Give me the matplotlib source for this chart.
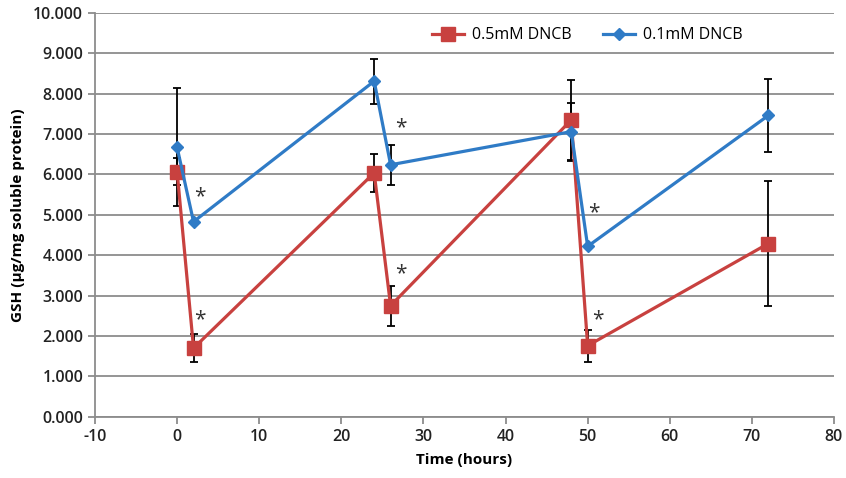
import matplotlib
matplotlib.use("Agg")
from matplotlib import pyplot as plt
from matplotlib.ticker import FormatStrFormatter

# time points (hours)
time_h = [0, 2, 24, 26, 48, 50, 72]

# GSH, 0.5mM DNCB
gsh_05 = [6.07, 1.70, 6.04, 2.75, 7.35, 1.76, 4.29]
err_05 = [0.33, 0.35, 0.47, 0.50, 1.00, 0.40, 1.55]

# GSH, 0.1mM DNCB
gsh_01 = [6.67, 4.83, 8.31, 6.24, 7.06, 4.22, 7.46]
err_01 = [1.46, 0.0, 0.56, 0.49, 0.72, 0.0, 0.90]

# significance markers
star_x = [2.8, 2.8, 27.2, 27.2, 50.8, 51.2]
star_y = [5.45, 2.40, 7.15, 3.55, 5.05, 2.40]

red = "#C8413F"
blue = "#2F7BC6"
grid = "#8C8C8C"

plt.rcParams['font.family'] = ['Open Sans', 'DejaVu Sans']
plt.rcParams['axes.unicode_minus'] = False

fig = plt.figure(figsize=(8.46, 4.78), dpi=100)
ax = fig.add_axes([0.1123, 0.128, 0.8735, 0.845])

ax.errorbar(time_h, gsh_05, yerr=err_05, fmt='none', ecolor='black',
            elinewidth=1.3, capsize=3, capthick=1.3, zorder=2)
ax.errorbar(time_h, gsh_01, yerr=err_01, fmt='none', ecolor='black',
            elinewidth=1.3, capsize=3, capthick=1.3, zorder=2)
ax.plot(time_h, gsh_05, color=red, lw=2.3, marker='s', ms=9.5,
        label='0.5mM DNCB', zorder=3)
ax.plot(time_h, gsh_01, color=blue, lw=2.3, marker='D', ms=6,
        label='0.1mM DNCB', zorder=4)

for sx, sy in zip(star_x, star_y):
    ax.text(sx, sy, '*', fontsize=15, ha='center', va='center', color='#333333')

ax.set_xlim(-10, 80)
ax.set_ylim(0, 10)
ax.set_xticks(range(-10, 81, 10))
ax.set_yticks(range(0, 11, 1))
ax.yaxis.set_major_formatter(FormatStrFormatter('%.3f'))
ax.yaxis.grid(True, color=grid, lw=1.3)
ax.set_axisbelow(True)

for s in ['top', 'right']:
    ax.spines[s].set_visible(False)
for s in ['left', 'bottom']:
    ax.spines[s].set_color(grid)
    ax.spines[s].set_linewidth(1.3)
ax.tick_params(axis='both', colors=grid, width=1.3, length=5, labelcolor='#222222',
               labelsize=11.5)
for lab in ax.get_xticklabels() + ax.get_yticklabels():
    lab.set_fontweight('semibold')

ax.set_xlabel('Time (hours)', fontsize=11, fontweight='bold', labelpad=6)
ax.set_ylabel('GSH (μg/mg soluble protein)', fontsize=11, fontweight='bold',
              labelpad=6)

ax.legend(loc='upper center', bbox_to_anchor=(0.666, 1.0), ncol=2, frameon=False,
          fontsize=11.5, handlelength=2.0, handletextpad=0.5, columnspacing=2.0)

fig.savefig('out.png', dpi=100)
